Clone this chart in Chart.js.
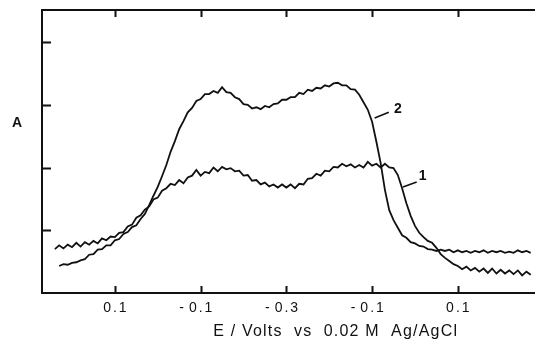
<!DOCTYPE html>
<html>
<head>
<meta charset="utf-8">
<script src="https://cdn.jsdelivr.net/npm/chart.js@4/dist/chart.umd.min.js"></script>
<style>
html,body{margin:0;padding:0;background:#fff;}
#wrap{width:535px;height:341px;position:relative;}
</style>
</head>
<body>
<div id="wrap"><canvas id="c" width="535" height="341"></canvas></div>
<script>
// scan position (volts travelled from first 0.1 tick)
const xs = [-0.14,-0.13,-0.12,-0.11,-0.10,-0.09,-0.08,-0.07,-0.06,-0.05,-0.04,-0.03,-0.02,-0.01,
0.00,0.01,0.02,0.03,0.04,0.05,0.06,0.07,0.08,0.09,0.10,0.11,0.12,0.13,0.14,0.15,0.16,0.17,0.18,0.19,
0.20,0.21,0.22,0.23,0.24,0.25,0.26,0.27,0.28,0.29,0.30,0.31,0.32,0.33,0.34,0.35,0.36,0.37,0.38,0.39,
0.40,0.41,0.42,0.43,0.44,0.45,0.46,0.47,0.48,0.49,0.50,0.51,0.52,0.53,0.54,0.55,0.56,0.57,0.58,0.59,
0.60,0.61,0.62,0.63,0.64,0.65,0.66,0.67,0.68,0.69,0.70,0.71,0.72,0.73,0.74,0.75,0.76,0.77,0.78,0.79,
0.80,0.81,0.82,0.83,0.84,0.85,0.86,0.87,0.88,0.89,0.90,0.91,0.92,0.93,0.94,0.95,0.96,0.97];

const curve1 = [0.070,0.076,0.071,0.077,0.073,0.080,0.074,0.081,0.077,0.083,0.079,0.087,0.084,0.090,
0.089,0.096,0.097,0.106,0.109,0.120,0.124,0.133,0.138,0.149,0.152,0.163,0.167,0.174,0.172,0.180,0.175,0.184,0.187,0.196,
0.187,0.193,0.191,0.200,0.194,0.201,0.197,0.199,0.194,0.195,0.187,0.188,0.179,0.180,0.173,0.176,0.170,0.173,0.168,0.173,
0.168,0.173,0.167,0.174,0.173,0.182,0.183,0.190,0.187,0.195,0.194,0.201,0.200,0.206,0.202,0.205,0.200,0.204,0.200,0.209,
0.203,0.206,0.200,0.206,0.200,0.199,0.188,0.167,0.143,0.123,0.107,0.096,0.089,0.083,0.080,0.072,0.062,0.056,0.051,0.046,
0.043,0.038,0.042,0.036,0.040,0.034,0.039,0.032,0.039,0.031,0.037,0.031,0.036,0.030,0.036,0.028,0.034,0.029];

const curve2 = [null,0.043,0.046,0.045,0.048,0.049,0.052,0.054,0.061,0.062,0.069,0.070,0.076,0.076,
0.084,0.086,0.094,0.097,0.105,0.108,0.118,0.126,0.140,0.155,0.169,0.186,0.204,0.225,0.242,0.261,0.274,0.288,0.295,0.306,
0.309,0.317,0.317,0.322,0.319,0.328,0.320,0.319,0.312,0.309,0.301,0.300,0.294,0.296,0.293,0.298,0.296,0.301,0.302,0.308,
0.308,0.312,0.312,0.319,0.317,0.324,0.322,0.327,0.326,0.331,0.329,0.334,0.335,0.331,0.331,0.325,0.324,0.316,0.304,0.292,
0.273,0.241,0.207,0.164,0.132,0.116,0.104,0.092,0.088,0.081,0.079,0.075,0.074,0.070,0.069,0.067,0.069,0.067,0.069,0.065,
0.068,0.065,0.067,0.064,0.067,0.065,0.068,0.064,0.067,0.065,0.067,0.064,0.066,0.064,0.068,0.065,0.067,0.064];

const xTickValues = [0, 0.2, 0.4, 0.6, 0.8];
const xTickLabels = ['0.1', '-0.1', '-0.3', '-0.1', '0.1'];
const yTickValues = [0.1, 0.2, 0.3, 0.4];
const seriesLabels = ['1', '2'];
const xTitle = 'E / Volts  vs  0.02 M  Ag/AgCl';
const yTitle = 'A';

const INK = '#111';
const FONT = '"Liberation Sans", "DejaVu Sans", sans-serif';

const toPts = arr => xs.map((x, i) => ({x: x, y: arr[i]}));

const decor = {
  id: 'decor',
  afterDraw(chart) {
    const ctx = chart.ctx, xa = chart.scales.x, ya = chart.scales.y, ca = chart.chartArea;
    ctx.save();
    ctx.strokeStyle = INK;
    ctx.lineWidth = 2;
    ctx.beginPath();
    xTickValues.forEach(v => {
      const px = Math.round(xa.getPixelForValue(v)) + 0.5;
      ctx.moveTo(px, ca.bottom); ctx.lineTo(px, ca.bottom - 7);
      ctx.moveTo(px, ca.top); ctx.lineTo(px, ca.top + 7);
    });
    yTickValues.forEach(v => {
      const py = Math.round(ya.getPixelForValue(v)) + 0.5;
      ctx.moveTo(ca.left, py); ctx.lineTo(ca.left + 9, py);
    });
    ctx.stroke();

    ctx.fillStyle = INK;
    ctx.textBaseline = 'middle';

    // x tick labels: digits centred on tick, minus sign hanging to the left
    ctx.font = '14px ' + FONT;
    ctx.letterSpacing = '2px';
    xTickValues.forEach((v, i) => {
      const px = xa.getPixelForValue(v);
      let t = xTickLabels[i];
      let neg = t.startsWith('-');
      if (neg) t = t.slice(1);
      ctx.textAlign = 'center';
      ctx.fillText(t, px + 1, ca.bottom + 15);
      if (neg) {
        const w = ctx.measureText(t).width;
        ctx.textAlign = 'right';
        ctx.fillText('-', px - w / 2 - 2, ca.bottom + 15);
      }
    });

    // curve labels with leaders
    ctx.letterSpacing = '0px';
    ctx.lineWidth = 1.6;
    ctx.beginPath();
    ctx.moveTo(xa.getPixelForValue(0.606), ya.getPixelForValue(0.279));
    ctx.lineTo(xa.getPixelForValue(0.639), ya.getPixelForValue(0.288));
    ctx.moveTo(xa.getPixelForValue(0.672), ya.getPixelForValue(0.169));
    ctx.lineTo(xa.getPixelForValue(0.704), ya.getPixelForValue(0.177));
    ctx.stroke();
    ctx.font = 'bold 14px ' + FONT;
    ctx.textAlign = 'center';
    ctx.fillText(seriesLabels[1], xa.getPixelForValue(0.660), ya.getPixelForValue(0.293));
    ctx.fillText(seriesLabels[0], xa.getPixelForValue(0.718), ya.getPixelForValue(0.186));

    // axis titles
    ctx.font = '16px ' + FONT;
    ctx.letterSpacing = '1.2px';
    ctx.fillText(xTitle, xa.getPixelForValue(0.515), ca.bottom + 39);
    ctx.letterSpacing = '0px';
    ctx.font = 'bold 14px ' + FONT;
    ctx.fillText(yTitle, ca.left - 25, ya.getPixelForValue(0.270));
    ctx.restore();
  }
};

new Chart(document.getElementById('c'), {
  type: 'line',
  data: {
    datasets: [
      {label: '1', data: toPts(curve1), borderColor: INK, borderWidth: 1.8, pointRadius: 0, tension: 0, fill: false},
      {label: '2', data: toPts(curve2), borderColor: INK, borderWidth: 1.8, pointRadius: 0, tension: 0, fill: false}
    ]
  },
  options: {
    responsive: false,
    animation: false,
    events: [],
    layout: {padding: {left: 42, top: 10, right: 0, bottom: 0}},
    plugins: {legend: {display: false}, tooltip: {enabled: false}},
    scales: {
      x: {
        type: 'linear', position: 'bottom', min: -0.17, max: 0.98,
        afterBuildTicks: s => { s.ticks = xTickValues.map(v => ({value: v})); },
        ticks: {display: false},
        grid: {display: false, drawTicks: false},
        border: {display: true, color: INK, width: 2},
        afterFit: s => { s.height = 48; }
      },
      x2: {
        type: 'linear', position: 'top', min: -0.17, max: 0.98,
        ticks: {display: false},
        grid: {display: false, drawTicks: false},
        border: {display: true, color: INK, width: 2},
        afterFit: s => { s.height = 0; }
      },
      y: {
        type: 'linear', position: 'left', min: 0, max: 0.451,
        ticks: {display: false},
        grid: {display: false, drawTicks: false},
        border: {display: true, color: INK, width: 2},
        afterFit: s => { s.height = s.height; s.width = 0; }
      }
    }
  },
  plugins: [decor]
});
</script>
</body>
</html>
